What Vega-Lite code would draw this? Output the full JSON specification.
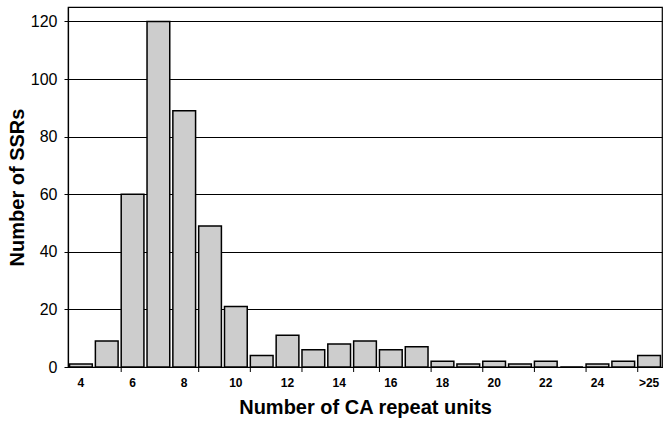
{
  "$schema": "https://vega.github.io/schema/vega-lite/v6.json",
  "width": 594,
  "height": 360,
  "autosize": "none",
  "padding": {"left": 68, "top": 7, "right": 7, "bottom": 57},
  "background": "white",
  "config": {
    "font": "Liberation Sans",
    "view": {"stroke": "black", "strokeWidth": 1.2}
  },
  "datasets": {
    "bars": [
      {"units": "4", "count": 1},
      {"units": "5", "count": 9},
      {"units": "6", "count": 60},
      {"units": "7", "count": 120},
      {"units": "8", "count": 89},
      {"units": "9", "count": 49},
      {"units": "10", "count": 21},
      {"units": "11", "count": 4},
      {"units": "12", "count": 11},
      {"units": "13", "count": 6},
      {"units": "14", "count": 8},
      {"units": "15", "count": 9},
      {"units": "16", "count": 6},
      {"units": "17", "count": 7},
      {"units": "18", "count": 2},
      {"units": "19", "count": 1},
      {"units": "20", "count": 2},
      {"units": "21", "count": 1},
      {"units": "22", "count": 2},
      {"units": "23", "count": 0},
      {"units": "24", "count": 1},
      {"units": "25", "count": 2},
      {"units": ">25", "count": 4}
    ],
    "ticks": [
      {"units": "6"}, {"units": "9"}, {"units": "11"}, {"units": "13"},
      {"units": "15"}, {"units": "16"}, {"units": "18"}, {"units": "20"},
      {"units": "22"}, {"units": "24"}, {"units": ">25"}
    ]
  },
  "resolve": {"axis": {"x": "independent"}},
  "layer": [
    {
      "data": {"name": "bars"},
      "mark": {"type": "bar", "fill": "#cdcdcd", "stroke": "black", "strokeWidth": 1.5},
      "encoding": {
        "x": {
          "field": "units",
          "type": "nominal",
          "sort": null,
          "scale": {
            "domain": ["4","5","6","7","8","9","10","11","12","13","14","15","16","17","18","19","20","21","22","23","24","25",">25"],
            "paddingInner": 0.12,
            "paddingOuter": 0.06
          },
          "axis": {
            "orient": "bottom",
            "title": "Number of CA repeat units",
            "titleFontSize": 20,
            "titleFontWeight": "bold",
            "titleColor": "black",
            "titlePadding": 9,
            "values": ["4","6","8","10","12","14","16","18","20","22","24",">25"],
            "labelAngle": 0,
            "labelFontSize": 12,
            "labelFontWeight": "bold",
            "labelColor": "black",
            "labelPadding": 10,
            "ticks": false,
            "domainColor": "black",
            "domainWidth": 1.2
          }
        },
        "y": {
          "field": "count",
          "type": "quantitative",
          "scale": {"domain": [0, 125], "nice": false},
          "axis": {
            "title": "Number of SSRs",
            "titleFontSize": 20,
            "titleFontWeight": "bold",
            "titleColor": "black",
            "titlePadding": 3,
            "values": [0, 20, 40, 60, 80, 100, 120],
            "labelFontSize": 16,
            "labelColor": "black",
            "labelPadding": 7,
            "tickSize": 4,
            "tickColor": "black",
            "grid": true,
            "gridColor": "black",
            "gridOpacity": 1,
            "gridWidth": 1.2,
            "domainColor": "black",
            "domainWidth": 1.2
          }
        }
      }
    },
    {
      "data": {"name": "ticks"},
      "mark": {"type": "rule", "color": "black", "strokeWidth": 1, "y2Offset": 5},
      "encoding": {
        "x": {"field": "units", "type": "nominal", "bandPosition": 0, "axis": null},
        "y": {"datum": 0},
        "y2": {"datum": 0}
      }
    }
  ]
}
